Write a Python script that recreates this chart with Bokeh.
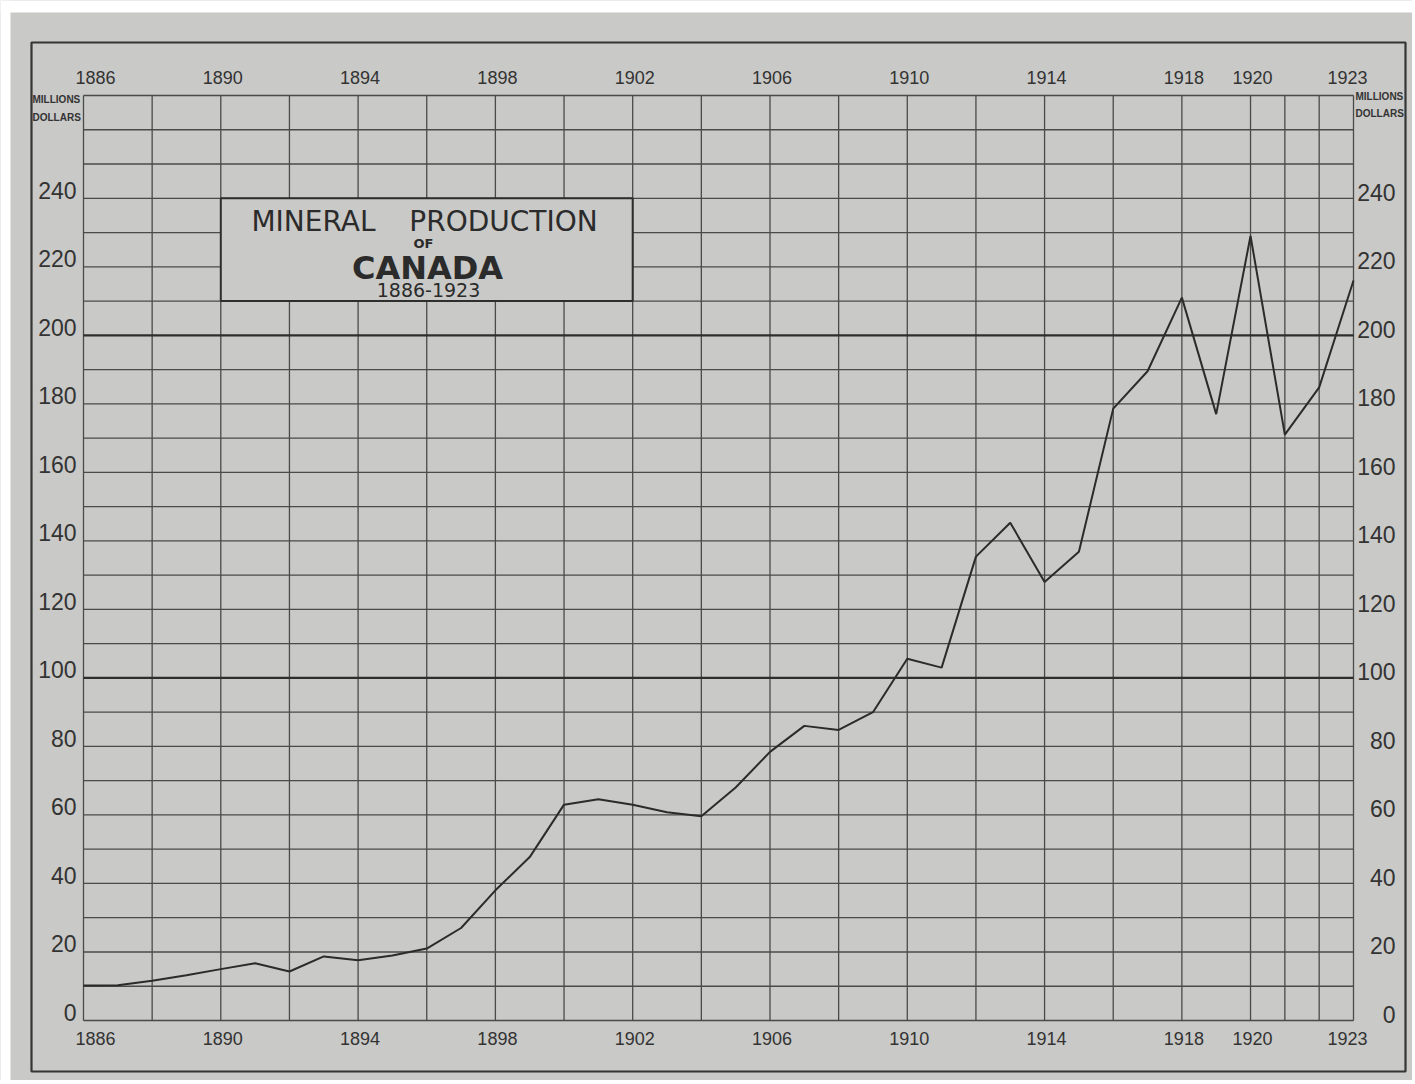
from bokeh.plotting import figure
from bokeh.models import ColumnDataSource, Range1d
from bokeh.core.properties import value
from bokeh.embed import file_html
from bokeh.resources import INLINE

# ---------------- data ----------------
years = list(range(1886, 1924))
production = [10.2, 10.3, 11.6, 13.2, 15.0, 16.7, 14.3, 18.7, 17.6, 19.0,
              21.0, 27.0, 38.0, 47.7, 63.0, 64.6, 63.0, 60.8, 59.6, 68.0,
              78.4, 86.0, 84.8, 90.0, 105.6, 103.0, 135.4, 145.3, 128.0, 136.8,
              178.6, 189.5, 211.0, 177.0, 229.0, 171.0, 184.8, 216.0]
year_labels = [1886, 1890, 1894, 1898, 1902, 1906, 1910, 1914, 1918, 1920, 1923]
value_labels = [0, 20, 40, 60, 80, 100, 120, 140, 160, 180, 200, 220, 240]
grid_years = [1886, 1888, 1890, 1892, 1894, 1896, 1898, 1900, 1902, 1904, 1906,
              1908, 1910, 1912, 1914, 1916, 1918, 1920, 1921, 1922, 1923]
grid_values = list(range(0, 271, 10))
bold_values = [100, 200]
title_lines = ["MINERAL", "PRODUCTION", "OF", "CANADA", "1886-1923"]
unit_lines = ["MILLIONS", "DOLLARS"]

# ---------------- layout ----------------
W, H = 1412, 1080
X_MIN, X_MAX = years[0], years[-1]
Y_MIN, Y_MAX = 0, 270
F_L, F_R, F_T, F_B = 83, 1353, 95, 1020   # canvas px of grid edges
sx = (F_R - F_L) / (X_MAX - X_MIN)
sy = (F_B - F_T) / (Y_MAX - Y_MIN)
x_start = X_MIN - F_L / sx
x_end = X_MAX + (W - F_R) / sx
y_start = Y_MIN - (H - F_B) / sy
y_end = Y_MAX + F_T / sy


def px_x(px):
    return x_start + px / sx


def px_y(py):
    return y_end - py / sy


BG = "#c9c9c7"
INK = "#353535"
GRID = "#4a4a4a"

p = figure(width=W, height=H, output_backend="svg", toolbar_location=None,
           x_axis_location=None, y_axis_location=None,
           x_range=Range1d(x_start, x_end), y_range=Range1d(y_start, y_end),
           min_border=0, min_border_left=0, min_border_right=0,
           min_border_top=0, min_border_bottom=0)
p.background_fill_color = BG
p.border_fill_color = BG
p.outline_line_color = None
p.xgrid.visible = False
p.ygrid.visible = False

# white paper edges of the scan (top and left)
p.quad(left=[px_x(0), px_x(0)], right=[px_x(W), px_x(10)],
       top=[px_y(0), px_y(0)], bottom=[px_y(12), px_y(H)],
       fill_color="white", line_color=None)

# vertical grid lines
p.segment(x0=grid_years, x1=grid_years,
          y0=[Y_MIN] * len(grid_years), y1=[Y_MAX] * len(grid_years),
          line_color=GRID, line_width=1.3)
# horizontal grid lines
thin = [v for v in grid_values if v not in bold_values]
p.segment(x0=[X_MIN] * len(thin), x1=[X_MAX] * len(thin), y0=thin, y1=thin,
          line_color=GRID, line_width=1.3)
p.segment(x0=[X_MIN] * len(bold_values), x1=[X_MAX] * len(bold_values),
          y0=bold_values, y1=bold_values, line_color="#2e2e2e", line_width=2.2)

# outer border
p.quad(left=[px_x(31)], right=[px_x(1405)], top=[px_y(42)], bottom=[px_y(1071)],
       fill_color=None, line_color=INK, line_width=2.2)

# title box
p.quad(left=[1890], right=[1902], bottom=[210], top=[240],
       fill_color=BG, line_color="#2e2e2e", line_width=2)

# data line
src = ColumnDataSource(dict(year=years, value=production))
p.line("year", "value", source=src, line_color="#2b2b2b", line_width=2)

# title texts
p.text(x=[px_x(313), px_x(503)], y=[px_y(221)] * 2, text=title_lines[:2],
       text_font=value("DejaVu Sans"), text_font_size="28px",
       text_align="center", text_baseline="middle", text_color="#2b2b2b")
p.text(x=[px_x(423)], y=[px_y(243)], text=[title_lines[2]],
       text_font=value("DejaVu Sans"), text_font_size="13px", text_font_style="bold",
       text_align="center", text_baseline="middle", text_color="#2b2b2b")
p.text(x=[px_x(427)], y=[px_y(267)], text=[title_lines[3]],
       text_font=value("DejaVu Sans"), text_font_size="32px", text_font_style="bold",
       text_align="center", text_baseline="middle", text_color="#2b2b2b")
p.text(x=[px_x(428)], y=[px_y(289)], text=[title_lines[4]],
       text_font=value("DejaVu Sans"), text_font_size="19px",
       text_align="center", text_baseline="middle", text_color="#2b2b2b")

# year labels (top and bottom)
yl_offsets = [12 if yr == X_MIN else (-6 if yr == X_MAX else 2) for yr in year_labels]
ysrc = ColumnDataSource(dict(x=year_labels, txt=[str(y) for y in year_labels],
                             dx=yl_offsets, ytop=[Y_MAX] * len(year_labels),
                             ybot=[Y_MIN] * len(year_labels)))
p.text(x="x", y="ytop", text="txt", source=ysrc, x_offset="dx", y_offset=-18,
       text_font=value("Liberation Sans"), text_font_size="18px",
       text_align="center", text_baseline="middle", text_color="#333333")
p.text(x="x", y="ybot", text="txt", source=ysrc, x_offset="dx", y_offset=18,
       text_font=value("Liberation Sans"), text_font_size="18px",
       text_align="center", text_baseline="middle", text_color="#333333")

# value labels (left and right)
vsrc = ColumnDataSource(dict(y=value_labels, txt=[str(v) for v in value_labels],
                             xl=[X_MIN] * len(value_labels),
                             xr=[X_MAX] * len(value_labels)))
p.text(x="xl", y="y", text="txt", source=vsrc, x_offset=-7, y_offset=-8,
       text_font=value("Liberation Sans"), text_font_size="23px",
       text_align="right", text_baseline="middle", text_color="#333333")
p.text(x="xr", y="y", text="txt", source=vsrc, x_offset=42, y_offset=-6,
       text_font=value("Liberation Sans"), text_font_size="23px",
       text_align="right", text_baseline="middle", text_color="#333333")

# unit labels
p.text(x=[X_MIN] * 2, y=[Y_MAX] * 2, text=unit_lines, x_offset=-51,
       y_offset=[4, 22], text_font=value("Liberation Sans"), text_font_size="10px",
       text_font_style="bold", text_align="left", text_baseline="middle",
       text_color="#333333")
p.text(x=[X_MAX] * 2, y=[Y_MAX] * 2, text=unit_lines, x_offset=2,
       y_offset=[1, 18], text_font=value("Liberation Sans"), text_font_size="10px",
       text_font_style="bold", text_align="left", text_baseline="middle",
       text_color="#333333")

open("out.html", "w").write(file_html(p, INLINE))
